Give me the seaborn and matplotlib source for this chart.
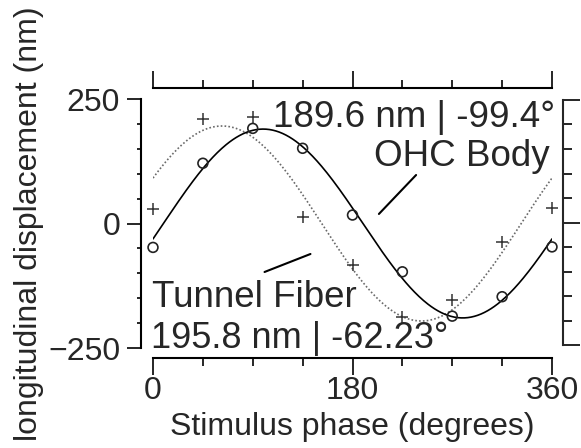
import numpy as np
import pandas as pd
import matplotlib
matplotlib.use("Agg")
import matplotlib.pyplot as plt
import seaborn as sns
from matplotlib.ticker import MultipleLocator, FixedLocator, NullFormatter

# ---- data ----
phase_deg = [0, 45, 90, 135, 180, 225, 270, 315, 360]
ohc_body_nm = [-48, 121, 191, 151, 17, -97, -186, -147, -47]
tunnel_fiber_nm = [29, 210, 213, 13, -84, -188, -154, -37, 31]
fit_names = ["OHC Body", "Tunnel Fiber"]
fit_amplitude_nm = [189.6, 195.8]
fit_phase_deg = [-99.4, -62.23]
x_ticks = [0, 180, 360]
y_ticks = [-250, 0, 250]

sns.set_style("white")
plt.rcParams["font.family"] = ["Liberation Sans", "DejaVu Sans"]

PX = 0.72  # points per pixel at dpi 100

fig = plt.figure(figsize=(5.81, 4.48), dpi=100)
ax = fig.add_axes([153 / 581, 1 - 348 / 448, 399 / 581, 249 / 448])

# fitted sinusoids (from the fit parameters printed on the chart)
xs = np.linspace(0, 360, 361)
curves = {}
for name, amp, ph in zip(fit_names, fit_amplitude_nm, fit_phase_deg):
    curves[name] = amp * np.cos(np.deg2rad(xs + ph))

sns.lineplot(x=xs, y=curves["Tunnel Fiber"], ax=ax, color="#6a6a6a",
             linewidth=1.2, linestyle=(0, (1, 1.3)), zorder=2)
sns.lineplot(x=xs, y=curves["OHC Body"], ax=ax, color="black",
             linewidth=1.2, zorder=3)

pts = pd.DataFrame({"phase": phase_deg, "ohc": ohc_body_nm, "tf": tunnel_fiber_nm})
sns.scatterplot(data=pts, x="phase", y="tf", ax=ax, marker="+", s=80,
                color="#333333", linewidth=1.1, zorder=4, clip_on=False)
sns.scatterplot(data=pts, x="phase", y="ohc", ax=ax, marker="o", s=50,
                facecolor="none", edgecolor="#222222", linewidth=1.2,
                zorder=5, clip_on=False)

ax.set_xlim(0, 360)
ax.set_ylim(-250, 250)
ax.grid(False)

ax.xaxis.set_major_locator(FixedLocator(x_ticks))
ax.xaxis.set_minor_locator(MultipleLocator(45))
ax.yaxis.set_major_locator(FixedLocator(y_ticks))
ax.yaxis.set_minor_locator(MultipleLocator(50))

ax.set_xlabel("Stimulus phase (degrees)", fontsize=23)
ax.set_ylabel("longitudinal displacement (nm)", fontsize=23)

# right-hand detached axis
ax2 = ax.twinx()
ax2.set_ylim(-256, 252)
ax2.grid(False)
for s in ["left", "bottom", "top"]:
    ax2.spines[s].set_visible(False)
ax2.spines["right"].set_position(("outward", 11 * PX))
ax2.spines["right"].set_bounds(-250, 250)
ax2.spines["right"].set_linewidth(1.5)
ax2.yaxis.set_major_locator(FixedLocator(y_ticks))
ax2.yaxis.set_minor_locator(MultipleLocator(50))
ax2.yaxis.set_major_formatter(NullFormatter())
ax2.tick_params(axis="y", which="major", direction="out", length=12, width=1.4)
ax2.tick_params(axis="y", which="minor", direction="out", length=6.5, width=1.4)

# main axis spines (detached style)
for s in ["left", "bottom", "top"]:
    ax.spines[s].set_visible(True)
    ax.spines[s].set_linewidth(1.5)
    ax.spines[s].set_color("black")
ax.spines["right"].set_visible(False)
ax.spines["left"].set_position(("outward", 12 * PX))
ax.spines["bottom"].set_position(("outward", 10 * PX))
ax.spines["top"].set_position(("outward", 11 * PX))

ax.tick_params(axis="y", which="major", direction="out", length=10, width=1.4,
               labelsize=23, pad=5, left=True, right=False, labelleft=True,
               labelright=False)
ax.tick_params(axis="y", which="minor", direction="out", length=3, width=1.4,
               left=True, right=False)
ax.tick_params(axis="x", which="major", direction="out", length=12, width=1.4,
               top=True, bottom=True, labeltop=False, labelbottom=True,
               labelsize=23, pad=1)
ax.tick_params(axis="x", which="minor", direction="out", length=6, width=1.4,
               top=True, bottom=True)

ax.xaxis.label.set_va("baseline")
ax.xaxis.set_label_coords(0.5, (348 - 435) / 249)
ax.yaxis.label.set_va("baseline")
ax.yaxis.set_label_coords((37 - 153) / 399, 0.5)

# annotations
ax.text(362.7, 193.8, "189.6 nm | -99.4°", fontsize=26.5, ha="right",
        va="baseline", clip_on=False, zorder=6)
ax.text(358.2, 115.5, "OHC Body", fontsize=26.5, ha="right",
        va="baseline", clip_on=False, zorder=6)
ax.text(-1.0, -167.7, "Tunnel Fiber", fontsize=26.5, ha="left",
        va="baseline", clip_on=False, zorder=6)
ax.text(-1.5, -250, "195.8 nm | -62.23°", fontsize=26, ha="left",
        va="baseline", clip_on=False, zorder=6)
ax.annotate("", xy=(239.1, 101.4), xytext=(202.1, 15.1),
            arrowprops=dict(arrowstyle="-", color="black", lw=1.5))
ax.annotate("", xy=(144.4, -59.2), xytext=(98.3, -99.4),
            arrowprops=dict(arrowstyle="-", color="black", lw=1.5))

fig.savefig("out.png", dpi=100)
